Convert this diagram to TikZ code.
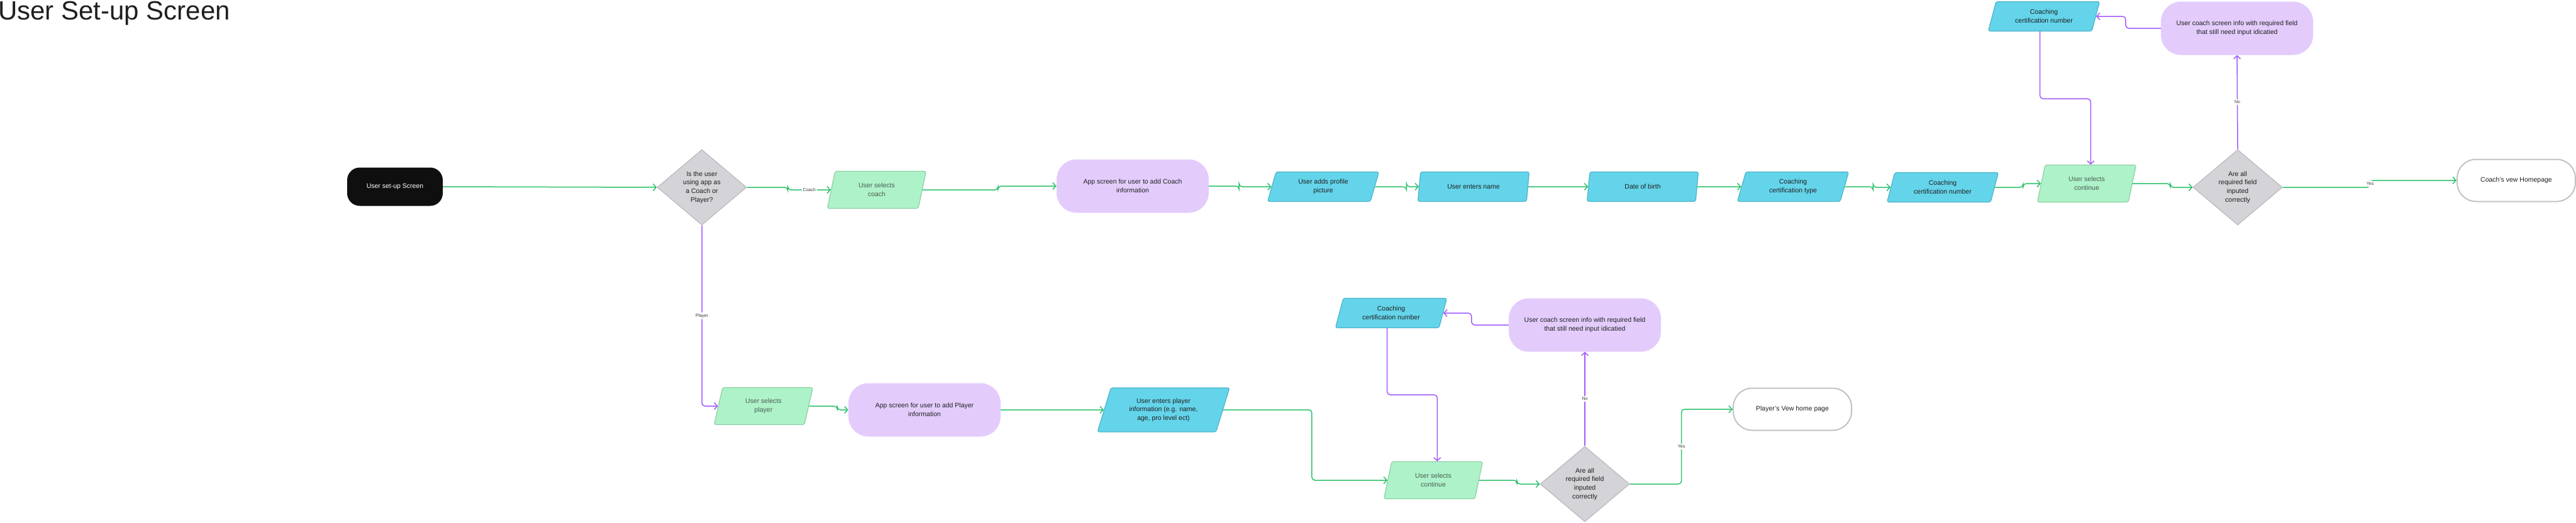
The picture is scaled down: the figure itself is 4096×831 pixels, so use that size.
\documentclass[tikz,border=0pt]{standalone}
\usepackage{fontspec}
\setmainfont{Liberation Sans}
\usetikzlibrary{arrows.meta, calc, shapes.geometric}

\definecolor{flowgreen}{HTML}{2EC26B}
\definecolor{flowpurple}{HTML}{A259FF}
\definecolor{mintfill}{HTML}{AEF2C9}
\definecolor{mintline}{HTML}{8DCFA2}
\definecolor{minttext}{HTML}{4A5E52}
\definecolor{cyanfill}{HTML}{64D4EA}
\definecolor{cyanline}{HTML}{4DB3C8}
\definecolor{lilac}{HTML}{E3CCFC}
\definecolor{decgray}{HTML}{D3D3D8}
\definecolor{decline}{HTML}{B9B9BF}
\definecolor{endline}{HTML}{C2C2C2}

\begin{document}
\begin{tikzpicture}[x=1pt, y=-1pt,
  every node/.style={font=\fontsize{10.5}{13.7}\selectfont, align=center, inner sep=0pt, text=black!88},
  startbox/.style={rectangle, rounded corners=20pt, fill=black!94, text=white, minimum width=152pt, minimum height=61pt},
  para/.style={trapezium, trapezium left angle=60, trapezium right angle=120, trapezium stretches body, rounded corners=3pt, line width=1.2pt},
  choice/.style={para, fill=mintfill, draw=mintline, text=minttext, minimum width=157pt, minimum height=59pt},
  entry/.style={para, fill=cyanfill, draw=cyanline, minimum width=177pt, minimum height=47pt},
  screen/.style={rectangle, rounded corners=32pt, fill=lilac, minimum width=242pt, minimum height=85pt},
  check/.style={diamond, fill=decgray, draw=decline, line width=1.2pt, minimum width=142pt, minimum height=120pt},
  finish/.style={rectangle, rounded corners=30pt, draw=endline, line width=2pt, fill=white, minimum width=188pt, minimum height=67pt},
  go/.style={draw=flowgreen, line width=1.5pt, rounded corners=5pt, -{Straight Barb[length=5pt,width=11pt]}},
  back/.style={go, draw=flowpurple},
  lbl/.style={font=\fontsize{7}{8}\selectfont, fill=white, inner sep=2pt, text=black!80}
]
\useasboundingbox (0,0) rectangle (4096,831);

\node[anchor=base west, font=\fontsize{42}{44}\selectfont] (title) at (-3,31) {User Set-up Screen};

% coach row
\node[startbox] (start) at (628,297) {User set-up Screen};
\node[check] (role) at (1116,298) {Is the user\\using app as\\a Coach or\\Player?};
\node[choice] (pickcoach) at (1394,302) {User selects\\coach};
\node[screen] (coachscr) at (1801,296) {App screen for user to add Coach\\information};
\node[entry] (photo) at (2104,297) {User adds profile\\picture};
\node[entry] (name) at (2343,297) {User enters name};
\node[entry] (dob) at (2612,297) {Date of birth};
\node[entry] (certtype) at (2851,297) {Coaching\\certification type};
\node[entry] (certnum) at (3089,298) {Coaching\\certification number};
\node[choice] (contc) at (3318,292) {User selects\\continue};
\node[check] (checkc) at (3558,298) {Are all\\required field\\inputed\\correctly};
\node[finish] (coachhome) at (4001,287) {Coach's vew Homepage};
\node[screen] (fixc) at (3557,45) {User coach screen info with required field\\that still need input idicatied};
\node[entry] (certagain) at (3250,26) {Coaching\\certification number};

% player row
\node[choice] (pickplayer) at (1214,646) {User selects\\player};
\node[screen] (playerscr) at (1470,652) {App screen for user to add Player\\information};
\node[entry, minimum width=210pt, minimum height=70pt] (playerinfo) at (1850,652) {User enters player\\information (e.g. name,\\age, pro level ect)};
\node[choice] (contp) at (2279,764) {User selects\\continue};
\node[check] (checkp) at (2520,770) {Are all\\required field\\inputed\\correctly};
\node[finish] (playerhome) at (2850,651) {Player's Vew home page};
\node[screen] (fixp) at (2520,517) {User coach screen info with required field\\that still need input idicatied};
\node[entry] (certnum2) at (2212,498) {Coaching\\certification number};

\draw[go] (start.east) -- (role.west);
\draw[go] (role.east) -- ++(65,0) |- node[lbl, pos=0.75] {Coach} (pickcoach.west);
\draw[go] (pickcoach.east) -- ++(120,0) |- (coachscr.west);
\draw[go] (coachscr.east) -- ++(48,0) |- (photo.west);
\draw[go] (photo.east) -- ++(50,0) |- (name.west);
\draw[go] (name.east) -- (dob.west);
\draw[go] (dob.east) -- (certtype.west);
\draw[go] (certtype.east) -- ++(45,0) |- (certnum.west);
\draw[go] (certnum.east) -- ++(45,0) |- (contc.west);
\draw[go] (contc.east) -- ++(60,0) |- (checkc.west);
\draw[go] (checkc.east) -- ++(139,0) |- node[lbl, pos=0.25] {Yes} (coachhome.west);
\draw[back] (checkc.north) -- node[lbl] {No} (fixc.south);
\draw[back] (fixc.west) -- ++(-56,0) |- (certagain.east);
\draw[back] (certagain.bottom side) -- ++(0,107) -| (contc.top side);

\draw[back] (role.south) |- node[lbl, pos=0.25] {Player} (pickplayer.west);
\draw[go] (pickplayer.east) -- ++(45,0) |- (playerscr.west);
\draw[go] (playerscr.east) -- (playerinfo.west);
\draw[go] (playerinfo.east) -- ++(141,0) |- (contp.west);
\draw[go] (contp.east) -- ++(60,0) |- (checkp.west);
\draw[go] (checkp.east) -- ++(82,0) |- node[lbl, pos=0.25] {Yes} (playerhome.west);
\draw[back] (checkp.north) -- node[lbl] {No} (fixp.south);
\draw[back] (fixp.west) -- ++(-59,0) |- (certnum2.east);
\draw[back] (certnum2.bottom side) -- ++(0,106) -| (contp.top side);
\end{tikzpicture}
\end{document}
